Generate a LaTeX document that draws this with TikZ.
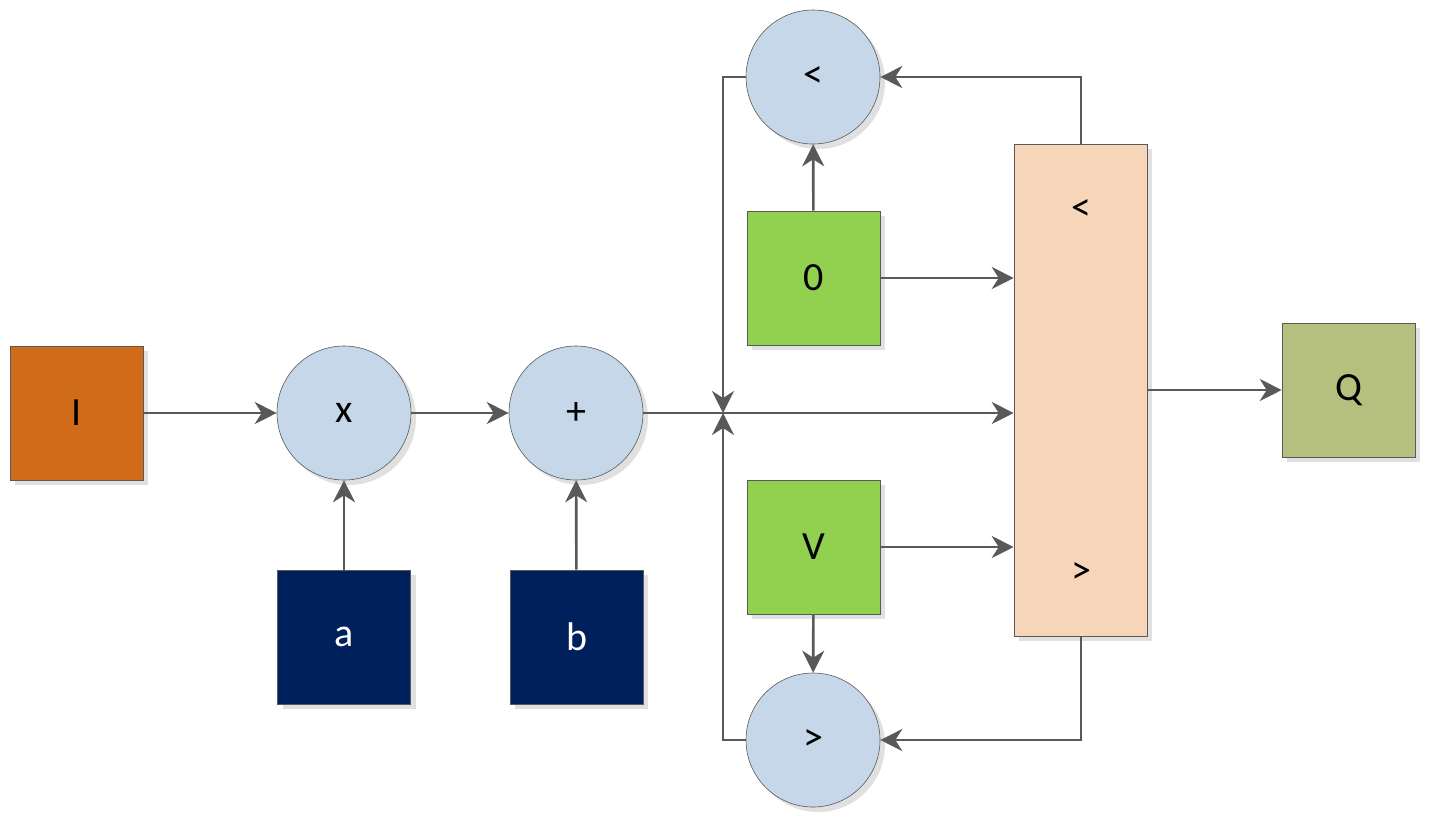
\documentclass[tikz,border=0pt]{standalone}
\usepackage{fontspec}
\setmainfont{Carlito}
\usetikzlibrary{arrows.meta,shadows}
\definecolor{ln}{HTML}{595959}
\definecolor{circ}{HTML}{C5D7E8}
\definecolor{org}{HTML}{D06B1A}
\definecolor{navy}{HTML}{00205B}
\definecolor{grn}{HTML}{92D050}
\definecolor{peach}{HTML}{F6D5B8}
\definecolor{olive}{HTML}{B5C07F}
\tikzset{
 sh/.style={drop shadow={shadow xshift=5pt,shadow yshift=-5pt,fill=black!12,opacity=1}},
 box/.style={draw=ln,line width=0.6pt,minimum width=133pt,minimum height=134pt,inner sep=0pt,sh,font=\fontsize{40}{40}\selectfont},
 circ/.style={circle,draw=ln,line width=0.6pt,fill=circ,minimum size=134pt,inner sep=0pt,sh,font=\fontsize{40}{40}\selectfont},
 con/.style={draw=ln,line width=2.6pt},
 arr/.style={con,-{Stealth[length=22pt,width=22pt,inset=7pt]}},
}
\begin{document}
\begin{tikzpicture}[x=1pt,y=-1pt]
\useasboundingbox (0,0) rectangle (1431,823);
\node[box,fill=org] (I) at (76.5,413) {I};
\node[circ] (x) at (344,413) {x};
\node[circ] (p) at (576,413) {+};
\node[box,fill=navy,text=white] (a) at (344,637) {a};
\node[box,fill=navy,text=white] (b) at (576.5,637) {b};
\node[circ] (lt) at (813,77) {<};
\node[circ] (gt) at (813,740) {>};
\node[box,fill=grn] (z) at (813.5,278) {0};
\node[box,fill=grn] (v) at (813.5,547) {V};
\node[box,fill=peach,minimum height=492pt] (r) at (1080.5,390) {};
\node[font=\fontsize{40}{40}\selectfont] (rl) at (1081,210) {<};
\node[font=\fontsize{40}{40}\selectfont] (rg) at (1081,573) {>};
\node[box,fill=olive] (q) at (1348.5,390) {Q};
\coordinate (j) at (723,413);
\coordinate (jt) at (723,77);
\coordinate (jb) at (723,740);
\coordinate (rt) at (1081,77);
\coordinate (rb) at (1081,740);
\draw[arr] (I) -- (x);
\draw[arr] (x) -- (p);
\draw[arr] (a) -- (x);
\draw[arr] (b) -- (p);
\draw[arr] (p) -- (r.west |- p);
\draw[arr] (lt.west) -- (jt) -- (j);
\draw[arr] (gt.west) -- (jb) -- (j);
\draw[arr] (z) -- (lt);
\draw[arr] (v) -- (gt);
\draw[arr] (z) -- (r.west |- z);
\draw[arr] (v) -- (r.west |- v);
\draw[arr] (r.north -| rt) -- (rt) -- (lt.east);
\draw[arr] (r.south -| rb) -- (rb) -- (gt.east);
\draw[arr] (r.east) -- (q);
\end{tikzpicture}
\end{document}
